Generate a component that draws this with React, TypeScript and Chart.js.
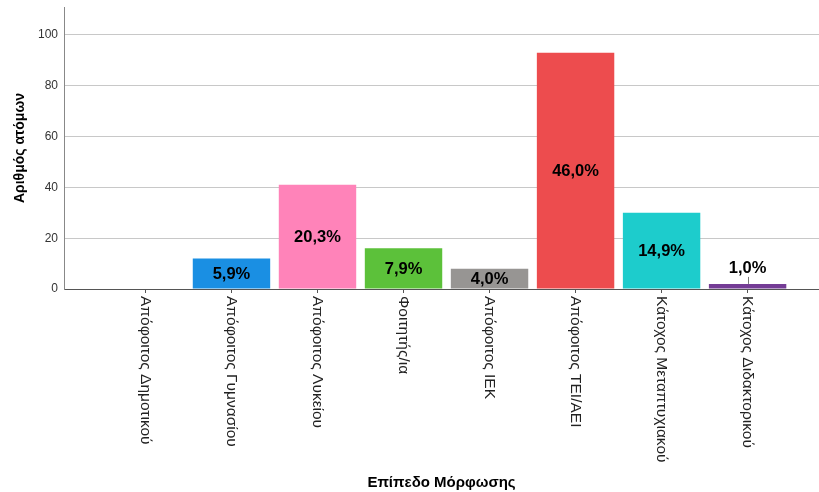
import React, { useEffect, useRef } from 'react';
import { Chart, registerables } from 'chart.js';

Chart.register(...registerables);

const categories = [
  'Απόφοιτος Δημοτικού',
  'Απόφοιτος Γυμνασίου',
  'Απόφοιτος Λυκείου',
  'Φοιτητής/ια',
  'Απόφοιτος ΙΕΚ',
  'Απόφοιτος ΤΕΙ/ΑΕΙ',
  'Κάτοχος Μεταπτυχιακού',
  'Κάτοχος Διδακτορικού',
];
const counts = [0, 12, 41, 16, 8, 93, 30, 2];
const percentLabels = ['', '5,9%', '20,3%', '7,9%', '4,0%', '46,0%', '14,9%', '1,0%'];
const barColors = ['#1a8fe3', '#1a8fe3', '#ff83b9', '#5cc13a', '#979593', '#ed4c4e', '#1dcccc', '#743c95'];
const yTicks = [0, 20, 40, 60, 80, 100];

const FONT = '"Liberation Sans", Arial, sans-serif';

const labelPlugin = {
  id: 'customLabels',
  afterDatasetsDraw(chart: any) {
    const ctx = chart.ctx;
    const meta = chart.getDatasetMeta(0);
    ctx.save();
    ctx.font = `bold 16.5px ${FONT}`;
    ctx.fillStyle = '#000';
    ctx.textAlign = 'center';
    ctx.textBaseline = 'middle';
    meta.data.forEach((bar: any, i: number) => {
      const txt = percentLabels[i];
      if (!txt) return;
      const { x, y, base } = bar.getProps(['x', 'y', 'base'], true);
      const h = base - y;
      if (h < 12) {
        ctx.fillText(txt, x, y - 15);
        ctx.strokeStyle = '#777';
        ctx.lineWidth = 1;
        ctx.beginPath();
        ctx.moveTo(Math.round(x) + 0.5, y - 7);
        ctx.lineTo(Math.round(x) + 0.5, y);
        ctx.stroke();
      } else {
        ctx.fillText(txt, x, (y + base) / 2 + 1);
      }
    });
    ctx.restore();
  },
  afterDraw(chart: any) {
    const ctx = chart.ctx;
    const xs = chart.scales.x;
    ctx.save();
    ctx.font = `15.5px ${FONT}`;
    ctx.fillStyle = '#222';
    ctx.textAlign = 'left';
    ctx.textBaseline = 'middle';
    categories.forEach((c, i) => {
      const px = xs.getPixelForValue(i);
      ctx.save();
      ctx.translate(px, xs.top + 7);
      ctx.rotate(Math.PI / 2);
      ctx.fillText(c, 0, 0);
      ctx.restore();
    });
    ctx.restore();
  },
};

export default function App() {
  const ref = useRef<HTMLCanvasElement | null>(null);
  useEffect(() => {
    if (!ref.current) return;
    const chart = new Chart(ref.current, {
      type: 'bar',
      data: {
        datasets: [
          {
            data: counts.map((v, i) => ({ x: i, y: v })),
            backgroundColor: barColors,
            borderWidth: 0,
            barPercentage: 0.9,
            categoryPercentage: 1,
          },
        ],
      },
      plugins: [labelPlugin],
      options: {
        responsive: false,
        animation: false,
        layout: { padding: { top: 7, left: 0, right: 0, bottom: 0 } },
        plugins: { legend: { display: false }, tooltip: { enabled: false } },
        scales: {
          x: {
            type: 'linear',
            min: -0.947,
            max: 7.83,
            offset: false,
            afterBuildTicks: (s: any) => {
              s.ticks = categories.map((_, i) => ({ value: i }));
            },
            afterFit: (s: any) => {
              s.height = 203;
              s.paddingLeft = 0;
              s.paddingRight = 0;
            },
            ticks: { display: false },
            grid: { display: true, offset: false, drawOnChartArea: false, drawTicks: true, tickLength: 4, color: '#555' },
            border: { display: true, color: '#555' },
            title: {
              display: true,
              text: 'Επίπεδο Μόρφωσης',
              color: '#000',
              font: { family: FONT, size: 15, weight: 'bold' },
              padding: { top: 0, bottom: 0 },
            },
          },
          y: {
            min: 0,
            max: 111,
            afterBuildTicks: (s: any) => {
              s.ticks = yTicks.map((v) => ({ value: v }));
            },
            afterFit: (s: any) => {
              s.width = 64;
              s.paddingTop = 0;
              s.paddingBottom = 0;
            },
            ticks: { color: '#333', font: { family: FONT, size: 12 }, padding: 6 },
            grid: { color: '#c8c8c8', drawTicks: false },
            border: { display: true, color: '#888' },
            title: {
              display: true,
              text: 'Αριθμός ατόμων',
              color: '#000',
              font: { family: FONT, size: 14, weight: 'bold' },
              padding: { top: 12, bottom: 0 },
            },
          },
        },
      },
    } as any);
    return () => chart.destroy();
  }, []);
  return (
    <div style={{ position: 'absolute', left: 0, top: 0, width: 819, height: 492 }}>
      <canvas ref={ref} width={819} height={492} style={{ display: 'block' }} />
    </div>
  );
}
